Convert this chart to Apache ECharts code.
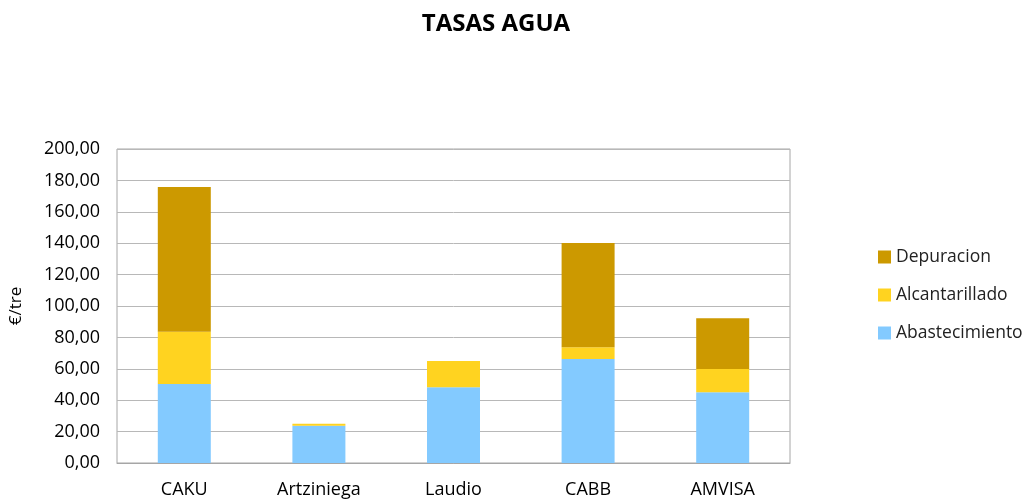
<!DOCTYPE html>
<html>
<head>
  <meta charset="UTF-8">
  <title>TASAS AGUA</title>
  <style>
    html, body { margin: 0; padding: 0; width: 100%; height: 100%; background: #fff; }
  </style>
  <script src="https://cdn.jsdelivr.net/npm/echarts@6/dist/echarts.min.js"></script>
</head>
<body>
<div id="main" style="width: 1032px; height: 502px;"></div>
<script>
  var categories = ['CAKU', 'Artziniega', 'Laudio', 'CABB', 'AMVISA'];
  var abastecimiento = [50.3, 23.8, 48.2, 66.2, 45.0];
  var alcantarillado = [33.3, 1.2, 16.8, 7.5, 14.9];
  var depuracion = [92.2, 0, 0, 66.4, 32.3];

  var font = '"Open Sans", sans-serif';
  var chart = echarts.init(document.getElementById('main'));

  function fmt(v) {
    return v.toFixed(2).replace('.', ',');
  }

  chart.setOption({
    animation: false,
    title: {
      text: 'TASAS AGUA',
      left: 491,
      textAlign: 'center',
      top: 7,
      textStyle: { fontFamily: font, fontSize: 24, fontWeight: 'bold', color: '#000' }
    },
    legend: {
      orient: 'vertical',
      left: 873,
      top: 243,
      itemGap: 20,
      itemWidth: 13,
      itemHeight: 13,
      icon: 'rect',
      data: ['Depuracion', 'Alcantarillado', 'Abastecimiento'],
      textStyle: { fontFamily: font, fontSize: 17.5, color: '#222' }
    },
    grid: {
      left: 117, right: 242, top: 149, bottom: 39,
      show: true, borderColor: '#a6a6a6', borderWidth: 1
    },
    xAxis: {
      type: 'category',
      data: categories,
      axisTick: { show: false },
      axisLine: { lineStyle: { color: '#a6a6a6' } },
      axisLabel: { fontFamily: font, fontSize: 18, color: '#000', margin: 18 }
    },
    yAxis: {
      type: 'value',
      min: 0, max: 200, interval: 20,
      name: '€/tre',
      nameLocation: 'middle',
      nameGap: 92,
      nameTextStyle: { fontFamily: font, fontSize: 17, color: '#000' },
      axisLine: { show: false },
      axisTick: { show: false },
      splitLine: { lineStyle: { color: '#b8b8b8' } },
      axisLabel: { fontFamily: font, fontSize: 18, color: '#000', margin: 17, formatter: fmt }
    },
    series: [
      { name: 'Abastecimiento', type: 'bar', stack: 'a', data: abastecimiento,
        barWidth: 53, itemStyle: { color: '#83caff' } },
      { name: 'Alcantarillado', type: 'bar', stack: 'a', data: alcantarillado,
        barWidth: 53, itemStyle: { color: '#ffd320' } },
      { name: 'Depuracion', type: 'bar', stack: 'a', data: depuracion,
        barWidth: 53, itemStyle: { color: '#cc9900' } }
    ]
  });
</script>
</body>
</html>
